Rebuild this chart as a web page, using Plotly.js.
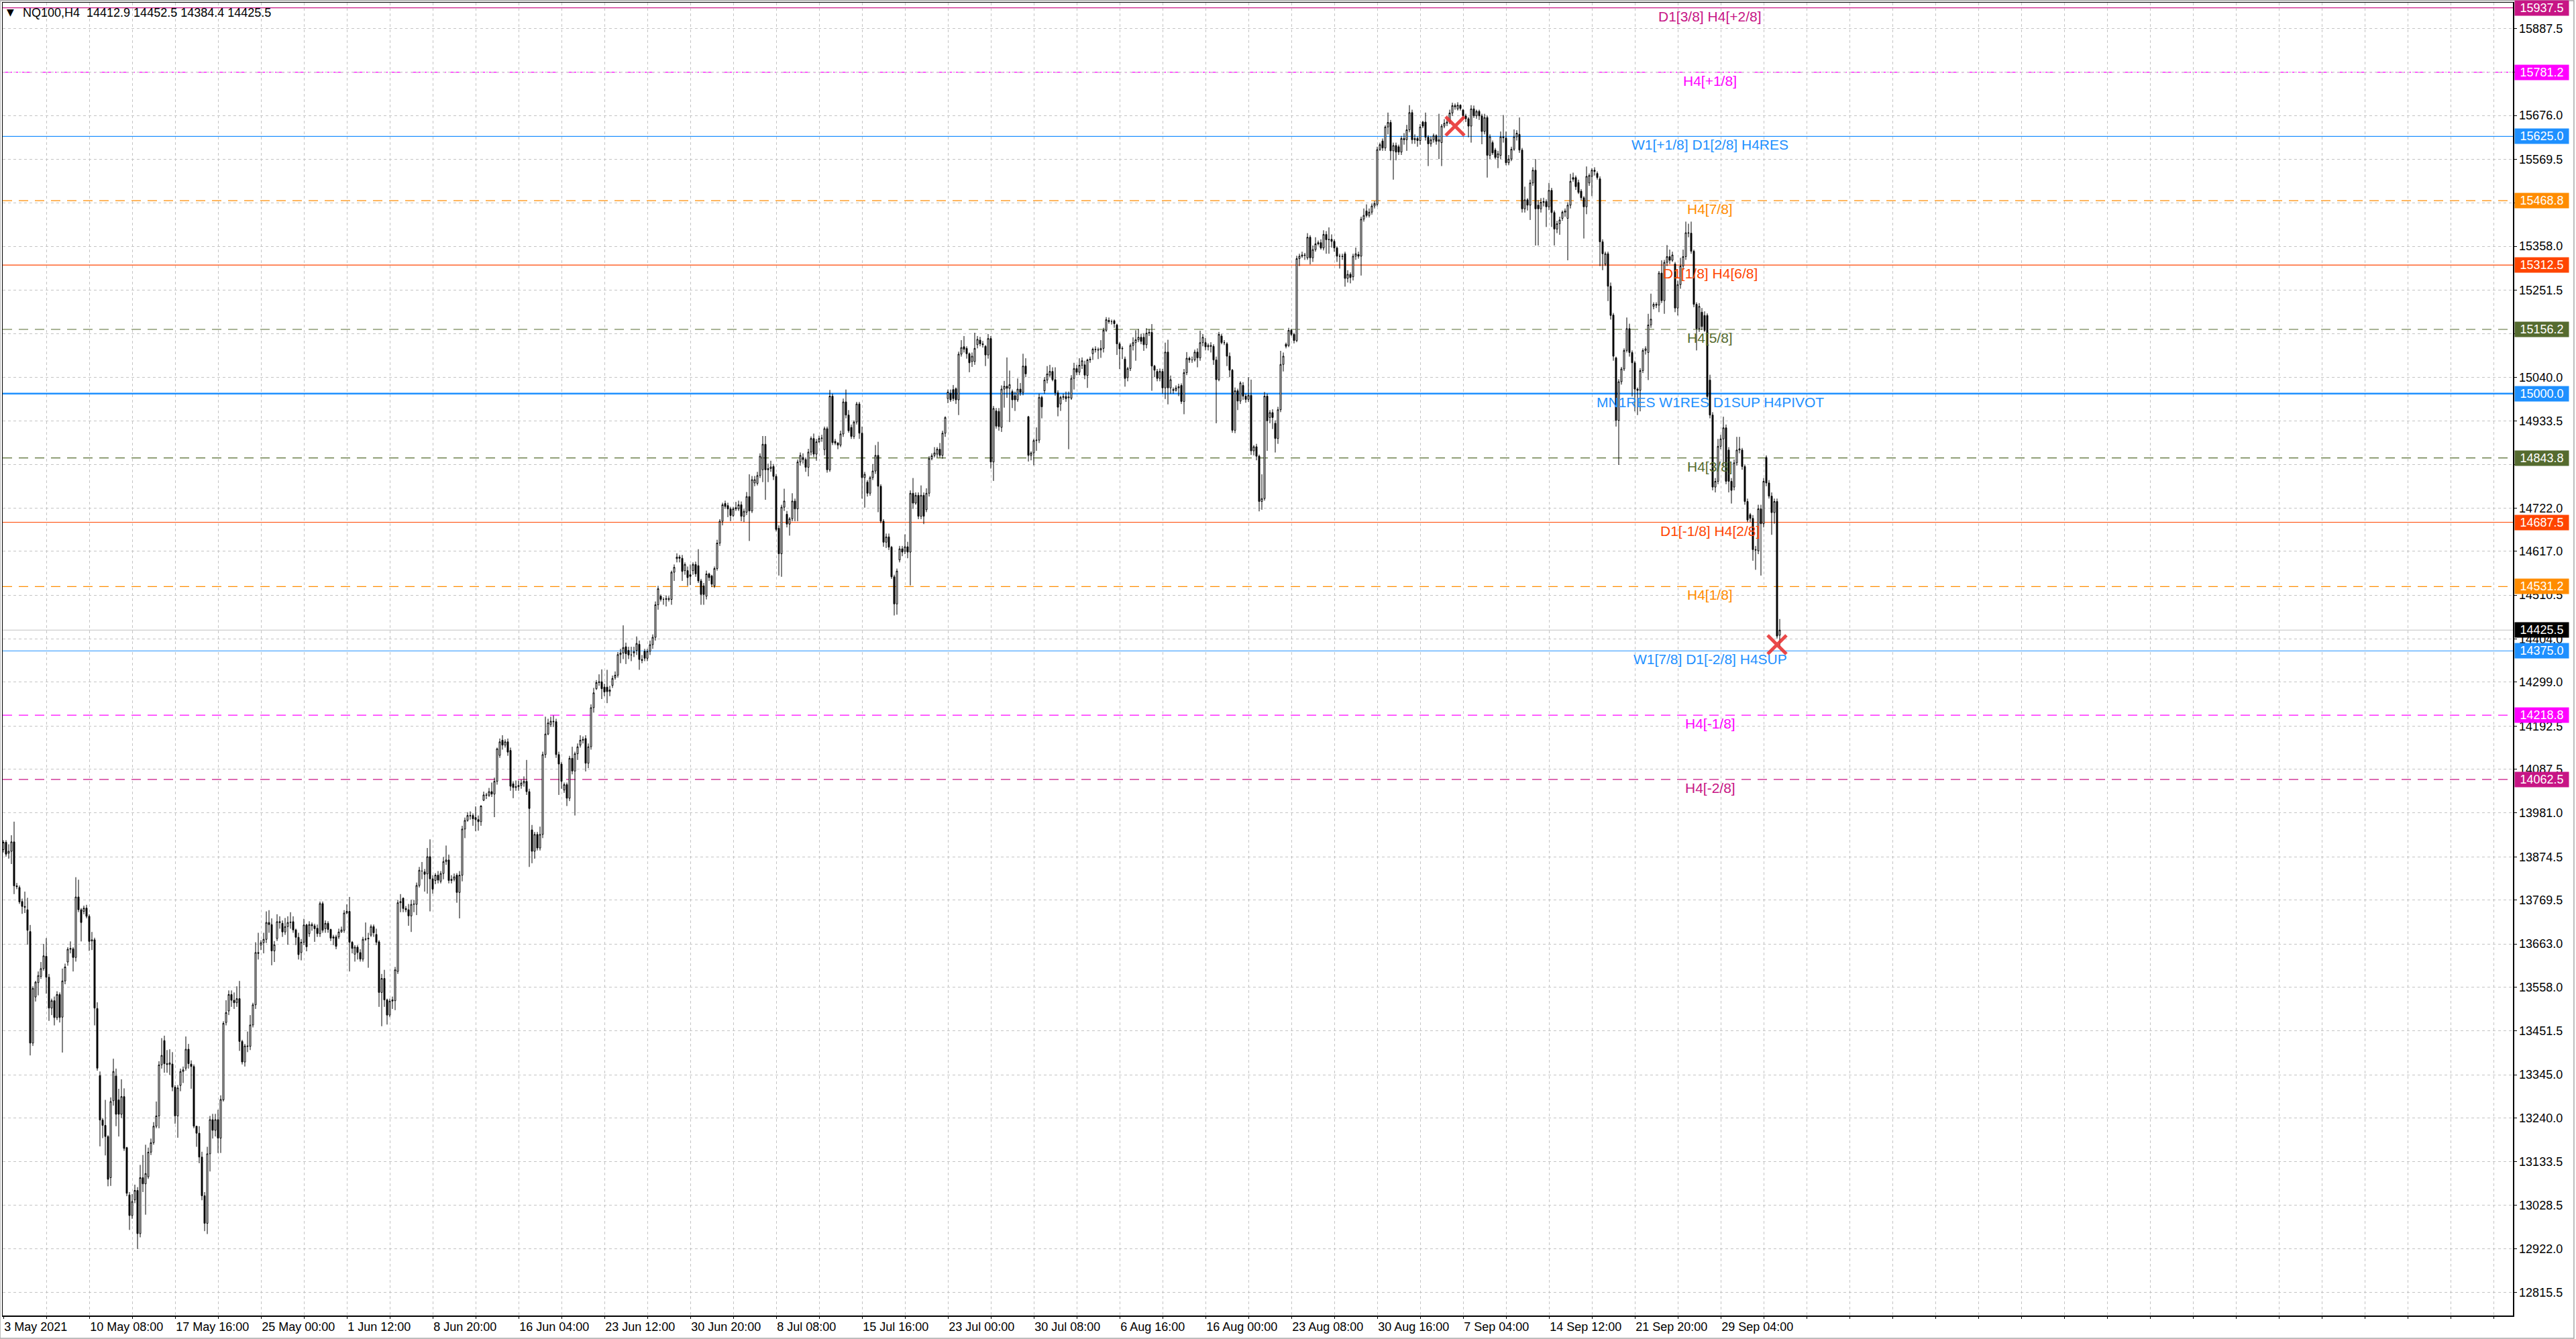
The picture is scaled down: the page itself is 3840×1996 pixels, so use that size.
<!DOCTYPE html>
<html>
<head>
<meta charset="utf-8">
<script src="https://cdn.plot.ly/plotly-3.0.1.min.js"></script>
<style>html,body{margin:0;padding:0;background:#fff;}#chart{width:3840px;height:1996px;}</style>
</head>
<body>
<div id="chart"></div>
<script>
// ---- H4 OHLC bars (NQ100) ----
const openP = [
13892,13910,13883,13888,13911,13804,13800,13766,13754,13746,
13693,13422,13534,13569,13584,13603,13633,13582,13507,13525,
13484,13540,13485,13573,13619,13650,13651,13630,13777,13746,
13742,13750,13730,13670,13673,13506,13343,13235,13222,13195,
13095,13282,13342,13284,13249,13292,13168,13053,13003,13041,
13064,12959,13095,13080,13097,13157,13180,13220,13245,13369,
13428,13372,13370,13371,13315,13245,13319,13353,13361,13407,
13371,13365,13220,13203,13145,13051,12984,13153,13236,13210,
13236,13191,13284,13472,13500,13540,13526,13520,13530,13426,
13376,13415,13414,13466,13515,13642,13660,13666,13674,13715,
13710,13646,13676,13717,13713,13692,13705,13715,13717,13697,
13679,13642,13667,13709,13688,13710,13707,13701,13688,13761,
13700,13713,13698,13677,13680,13680,13692,13696,13738,13742,
13667,13638,13655,13642,
13626,13674,13675,13684,13705,13686,13668,13545,13579,13527,
13490,13524,13525,13596,13763,13774,13749,13746,13731,13759,
13759,13805,13840,13838,13833,13875,13821,13817,13830,13815,
13834,13863,13867,13817,13820,13830,13788,13830,13942,13963,
13975,13975,13970,13965,13960,14012,14025,14024,14033,14027,
14058,14121,14158,14146,14154,14133,14052,14043,14045,14048,
14054,14058,14033,13940,13888,13929,13896,13929,14123,14173,
14196,14204,14203,14123,14100,14037,14050,14017,14114,14083,
14125,14146,14158,14162,14102,14142,14237,14283,14298,14300,
14287,14287,14276,14291,14310,14316,14366,14370,14385,14376,
14365,14370,14376,14391,14354,14374,14357,14374,14390,14408,
14487,14508,14500,14500,14502,14500,14566,14599,14603,14600,
14570,14570,14560,14570,14585,14582,14545,14533,14508,14562,
14557,14533,14575,14637,14690,
14733,14728,14720,14704,14720,14720,14730,14702,14712,14750,
14715,14783,14782,14801,14815,14877,14815,14818,14823,14799,
14673,14611,14724,14707,14683,14696,14739,14720,14834,14845,
14840,14821,14858,14891,14853,14883,14891,14864,14915,14815,
14994,14884,14880,14875,14902,14980,14948,14918,14896,14931,
14975,14904,14796,14785,14758,14796,14812,14850,14775,14690,
14639,14652,14627,14555,14489,14596,14623,14617,14628,14615,
14758,14734,14753,14702,14753,14718,14758,14842,14850,14853,
14865,14850,14904,14988,15001,15010,15012,14985,15096,15114,
15110,15097,15078,15078,15119,15130,15121,15115,15094,15134,
14834,14958,14957,14918,15011,15018,15013,15005,14995,14985,
15011,15003,15067,14944,14850,14856,14886,14887,14991,15007,
15033,15045,15054,15034,15002,14975,14991,14993,14990,14989,
15037,15061,15052,15069,15070,
15044,15082,15097,15108,15107,15106,15110,15154,15178,15175,
15177,15167,15121,15109,15084,15039,15061,15117,15124,15131,
15137,15137,15119,15147,15149,15067,15054,15037,15054,15014,
15101,15014,15010,15008,15014,15020,14981,15051,15086,15082,
15082,15101,15087,15124,15124,15114,15117,15115,15082,15034,
15140,15124,15121,15091,15057,14911,15007,14982,15020,14994,
14986,14996,14861,14871,14848,14738,14745,14994,14942,14954,
14928,14891,14961,15071,15120,15117,15154,15144,15129,15328,
15334,15337,15330,15380,15330,15350,15364,15367,15354,15387,
15374,15375,15370,15354,15334,15334,15340,15280,15290,15284,
15334,15338,15334,15424,15444,15433,15441,15456,15460,15593,
15614,15597,15648,15659,15590,15603,15600,15587,15620,15617,
15641,15683,15617,15620,15615,15660,15660,15623,15607,15617,
15627,15613,15610,15650,15657,15660,
15682,15700,15692,15701,15689,15675,15668,15650,15692,15675,
15686,15675,15637,15671,15579,15610,15592,15574,15579,15624,
15621,15561,15570,15594,15624,15630,15592,15449,15471,15458,
15512,15543,15458,15449,15465,15467,15454,15494,15440,15400,
15413,15426,15441,15426,15458,15525,15525,15513,15492,15476,
15454,15512,15528,15543,15535,15522,15369,15315,15340,15261,
15191,15087,14935,15029,15060,15105,15158,15100,15075,15011,
15008,15056,15105,15100,15167,15212,15217,15215,15293,15226,
15319,15333,15324,15315,15208,15265,15310,15333,15391,15390,
15346,15217,15158,15198,15190,15190,15033,14948,14773,14787,
14872,14890,14917,14863,14787,14773,14832,14863,14863,14823,
14738,14706,14697,14621,14618,14720,14684,14845,14783,14751,
14711,14738,14412.9
];
const highP = [
13915,13915,13905,13927,13960,13811,13805,13773,13790,13775,
13709,13560,13573,13596,13619,13663,13677,13590,13530,13535,
13548,13545,13603,13615,13655,13669,13655,13825,13819,13750,
13756,13758,13735,13692,13678,13521,13353,13240,13284,13198,
13290,13384,13360,13311,13334,13312,13170,13060,13055,13078,
13072,13126,13150,13175,13168,13190,13230,13280,13378,13434,
13440,13405,13407,13400,13320,13320,13360,13365,13438,13420,
13380,13370,13220,13220,13158,13060,13170,13245,13250,13250,
13260,13295,13475,13526,13550,13550,13545,13560,13573,13430,
13420,13450,13490,13520,13667,13690,13672,13690,13742,13745,
13725,13670,13735,13730,13720,13726,13730,13740,13730,13700,
13690,13675,13724,13712,13718,13715,13712,13710,13766,13766,
13720,13718,13700,13685,13685,13700,13705,13745,13759,13777,
13670,13660,13660,13650,
13680,13715,13690,13710,13710,13700,13672,13590,13600,13530,
13530,13535,13607,13770,13784,13776,13755,13760,13770,13770,
13812,13850,13862,13845,13896,13917,13830,13835,13840,13840,
13874,13902,13880,13830,13834,13835,13840,13950,13970,13983,
13985,13980,13997,13975,14000,14033,14030,14042,14055,14067,
14140,14162,14170,14160,14162,14140,14058,14060,14060,14062,
14070,14110,14040,13952,13935,13935,13948,14130,14215,14210,
14215,14218,14210,14130,14105,14055,14055,14120,14142,14130,
14150,14170,14167,14170,14150,14245,14285,14304,14318,14330,
14295,14329,14290,14315,14325,14372,14380,14437,14395,14385,
14385,14385,14410,14400,14365,14380,14380,14400,14415,14495,
14533,14512,14505,14510,14508,14570,14585,14612,14608,14608,
14590,14580,14585,14590,14592,14622,14550,14540,14570,14565,
14560,14580,14645,14695,14735,
14740,14735,14725,14725,14737,14740,14738,14720,14761,14804,
14800,14800,14810,14855,14897,14897,14830,14837,14829,14805,
14680,14730,14769,14715,14700,14758,14745,14840,14857,14855,
14845,14866,14896,14903,14890,14898,14900,14920,14920,15009,
15000,14890,14882,14910,14988,15010,14960,14925,14935,14980,
14980,14920,14810,14790,14800,14829,14875,14883,14780,14695,
14660,14660,14630,14560,14575,14630,14630,14658,14640,14765,
14795,14760,14760,14777,14760,14770,14848,14855,14870,14870,
14880,14910,14945,15010,15010,15021,15015,15102,15130,15140,
15115,15100,15100,15148,15140,15138,15128,15118,15145,15140,
14970,14965,14965,15020,15031,15088,15056,15010,15005,15037,
15026,15097,15086,14946,14860,14890,14918,15000,14995,15040,
15067,15070,15064,15064,15008,14995,15000,15005,15005,15045,
15075,15070,15086,15088,15080,
15085,15090,15112,15115,15112,15130,15160,15186,15185,15180,
15180,15170,15125,15115,15090,15065,15122,15137,15154,15157,
15145,15147,15159,15157,15169,15070,15060,15061,15060,15124,
15131,15044,15015,15020,15024,15025,15060,15101,15090,15090,
15107,15110,15153,15145,15135,15122,15125,15120,15090,15150,
15145,15130,15125,15100,15060,15015,15012,15030,15028,15000,
15040,15034,14875,14878,14852,14804,15004,15000,14960,14962,
14935,14968,15104,15100,15124,15160,15157,15148,15335,15340,
15345,15342,15390,15385,15360,15380,15372,15375,15397,15395,
15404,15387,15375,15358,15340,15340,15345,15300,15295,15340,
15355,15345,15430,15450,15460,15450,15462,15468,15600,15610,
15620,15652,15683,15665,15610,15610,15605,15626,15633,15653,
15701,15690,15630,15625,15655,15663,15683,15628,15625,15632,
15630,15680,15655,15667,15668,15690,
15707,15705,15708,15703,15692,15680,15672,15701,15700,15690,
15690,15680,15680,15676,15630,15615,15597,15590,15637,15677,
15637,15580,15600,15642,15640,15671,15597,15503,15475,15520,
15550,15570,15470,15475,15476,15472,15512,15500,15445,15420,
15430,15445,15450,15465,15534,15537,15530,15520,15497,15480,
15552,15535,15548,15550,15540,15528,15375,15345,15345,15270,
15196,15090,15035,15065,15110,15185,15170,15105,15080,15015,
15062,15110,15115,15194,15243,15222,15222,15298,15324,15325,
15361,15350,15345,15320,15275,15330,15350,15418,15413,15418,
15350,15222,15220,15208,15200,15195,15046,14955,14795,14890,
14900,14944,14925,14870,14795,14840,14895,14895,14868,14828,
14745,14710,14705,14630,14730,14730,14795,14850,14790,14760,
14745,14745,14452.5
];
const lowP = [
13885,13875,13870,13857,13784,13796,13760,13736,13738,13661,
13392,13415,13523,13538,13578,13598,13542,13476,13490,13465,
13478,13472,13399,13565,13610,13640,13596,13620,13740,13669,
13735,13725,13646,13648,13465,13355,13171,13191,13149,13074,
13075,13270,13220,13195,13240,13160,13050,12968,12995,13033,
12922,12950,13060,13005,13092,13150,13175,13215,13215,13360,
13350,13350,13345,13305,13226,13192,13305,13325,13355,13360,
13311,13215,13170,13130,13040,12965,12958,13110,13190,13195,
13155,13155,13280,13465,13490,13510,13505,13510,13403,13370,
13365,13400,13405,13460,13505,13625,13648,13640,13665,13690,
13611,13619,13670,13700,13680,13685,13661,13700,13690,13660,
13625,13623,13660,13645,13680,13695,13668,13680,13680,13690,
13690,13690,13670,13660,13650,13675,13690,13690,13735,13596,
13640,13620,13625,13620,
13620,13670,13605,13680,13680,13660,13510,13463,13510,13467,
13485,13505,13502,13590,13740,13740,13740,13707,13692,13740,
13733,13800,13820,13790,13785,13742,13785,13808,13810,13810,
13820,13855,13810,13810,13815,13763,13725,13815,13920,13960,
13965,13950,13937,13938,13950,14010,14015,14020,14020,13971,
14050,14115,14135,14140,14120,14035,14017,14035,14035,14040,
14045,14025,13850,13859,13870,13890,13890,13920,14115,14170,
14190,14190,14115,14025,14040,14030,13998,14010,14075,13975,
14110,14140,14150,14082,14090,14135,14225,14280,14290,14258,
14265,14248,14265,14285,14305,14310,14345,14355,14343,14355,
14350,14360,14365,14329,14345,14350,14350,14365,14380,14400,
14475,14495,14487,14483,14495,14487,14545,14590,14590,14545,
14560,14533,14535,14560,14555,14540,14487,14487,14500,14545,
14530,14528,14570,14630,14680,
14720,14700,14690,14700,14715,14715,14690,14688,14705,14642,
14710,14775,14777,14795,14785,14742,14785,14810,14790,14665,
14558,14555,14715,14675,14655,14690,14690,14690,14825,14830,
14810,14799,14850,14846,14837,14880,14883,14850,14808,14810,
14875,14875,14865,14870,14895,14940,14905,14890,14890,14925,
14890,14745,14723,14750,14752,14790,14805,14712,14685,14628,
14625,14620,14550,14461,14463,14590,14605,14610,14600,14534,
14720,14730,14695,14695,14683,14712,14750,14838,14845,14845,
14845,14842,14895,14977,14980,14982,14975,14948,15090,15100,
15085,15052,15065,15070,15110,15115,15112,15067,15085,14818,
14788,14915,14910,14907,14966,14990,14931,14965,14958,14980,
14995,14996,15040,14835,14838,14826,14861,14880,14940,15000,
15025,15040,15030,14995,14945,14958,14985,14980,14865,14985,
15010,15045,15045,15060,15035,
15014,15075,15082,15100,15084,15087,15100,15150,15170,15168,
15160,15094,15060,15084,15017,15030,15055,15105,15080,15125,
15120,15104,15110,15140,15007,15040,15030,15030,15000,14987,
14974,15000,15000,15005,14994,14975,14950,15045,15075,15075,
15078,15064,15080,15115,15105,15105,15100,15070,14928,15030,
15120,15118,15067,15040,14905,14904,14960,14975,14985,14978,
14980,14851,14850,14838,14714,14718,14740,14861,14928,14914,
14857,14878,14955,15054,15110,15113,15140,15122,15125,15310,
15330,15325,15325,15314,15320,15345,15360,15350,15348,15340,
15340,15355,15345,15320,15304,15325,15260,15270,15268,15275,
15325,15328,15287,15418,15428,15428,15435,15450,15455,15590,
15590,15590,15630,15567,15520,15567,15580,15580,15605,15590,
15635,15607,15607,15600,15605,15645,15615,15553,15600,15610,
15605,15570,15553,15645,15650,15655,
15675,15690,15688,15688,15668,15660,15623,15610,15670,15668,
15665,15606,15630,15525,15570,15580,15570,15548,15570,15610,
15555,15555,15565,15590,15615,15585,15440,15440,15445,15422,
15505,15360,15360,15440,15455,15405,15446,15405,15360,15390,
15386,15420,15430,15324,15450,15515,15495,15485,15470,15377,
15436,15505,15480,15530,15520,15310,15300,15310,15225,15180,
15080,14920,14827,15022,15055,15100,15090,14993,14957,14948,
14957,15050,15095,15033,15160,15205,15208,15198,15220,15194,
15310,15315,15320,15198,15190,15255,15300,15325,15380,15340,
15210,15105,15150,15155,15150,14985,14940,14765,14760,14780,
14865,14823,14780,14760,14733,14765,14825,14855,14815,14730,
14688,14688,14594,14572,14610,14558,14675,14775,14745,14657,
14684,14405,14384.4
];
const closeP = [
13910,13881,13888,13911,13804,13802,13765,13754,13752,13696,
13422,13555,13570,13586,13603,13634,13582,13507,13525,13484,
13540,13484,13573,13607,13650,13652,13630,13777,13746,13715,
13750,13730,13669,13673,13507,13361,13235,13222,13195,13091,
13280,13353,13249,13249,13292,13166,13057,13003,13037,13064,
12959,13095,13080,13105,13157,13180,13220,13245,13369,13392,
13372,13370,13374,13315,13245,13313,13353,13357,13407,13372,
13365,13220,13203,13145,13051,12984,13153,13236,13210,13236,
13191,13285,13470,13496,13540,13526,13520,13530,13426,13376,
13415,13414,13466,13515,13642,13640,13666,13674,13715,13710,
13646,13661,13717,13715,13692,13705,13715,13716,13697,13679,
13637,13667,13709,13656,13710,13707,13700,13688,13761,13696,
13713,13698,13677,13680,13657,13692,13697,13738,13742,13667,
13652,13655,13642,13626,
13674,13675,13677,13705,13690,13667,13545,13579,13527,13490,
13524,13527,13600,13763,13766,13749,13746,13731,13759,13760,
13805,13842,13840,13832,13875,13821,13796,13830,13818,13834,
13863,13867,13817,13820,13826,13788,13830,13942,13963,13975,
13974,13967,13965,13960,13998,14025,14024,14033,14027,14058,
14137,14154,14146,14154,14129,14046,14043,14045,14048,14054,
14058,14033,13992,13888,13929,13896,13929,14123,14173,14200,
14204,14203,14123,14100,14058,14050,14017,14114,14083,14125,
14142,14158,14160,14102,14142,14237,14273,14298,14300,14283,
14275,14276,14280,14308,14316,14366,14370,14383,14368,14365,
14365,14373,14393,14354,14352,14357,14374,14390,14408,14487,
14526,14500,14500,14502,14500,14566,14578,14603,14600,14568,
14585,14553,14556,14585,14562,14545,14512,14512,14562,14553,
14537,14575,14637,14690,14730,
14726,14720,14704,14720,14723,14730,14702,14714,14750,14715,
14791,14791,14801,14848,14877,14815,14818,14822,14799,14670,
14611,14724,14739,14683,14696,14739,14720,14834,14850,14840,
14821,14858,14891,14853,14883,14891,14892,14915,14815,14994,
14881,14880,14875,14902,14980,14948,14910,14896,14931,14975,
14904,14796,14804,14758,14796,14812,14850,14775,14690,14639,
14652,14627,14555,14489,14569,14623,14615,14628,14615,14758,
14734,14753,14702,14753,14702,14758,14842,14849,14856,14865,
14850,14904,14942,15004,14985,14988,14985,15096,15112,15108,
15097,15075,15091,15110,15132,15121,15119,15094,15134,14834,
14964,14921,14920,15011,15018,15013,15022,14985,14985,15011,
15003,15067,15048,14850,14856,14886,14887,14991,14968,15033,
15048,15054,15034,15002,14967,14991,14993,14988,14992,15037,
15061,15052,15069,15080,15045,
15082,15084,15108,15107,15106,15110,15154,15180,15175,15175,
15170,15121,15109,15110,15037,15061,15117,15124,15131,15137,
15127,15119,15147,15149,15067,15057,15037,15054,15014,15101,
15014,15034,15008,15014,15017,14981,15051,15086,15082,15082,
15101,15087,15124,15137,15114,15117,15115,15082,15034,15144,
15124,15124,15091,15057,14911,15007,14982,15026,14994,14986,
14996,14861,14871,14848,14738,14745,14994,14934,14954,14942,
14891,14961,15071,15091,15115,15154,15144,15129,15328,15334,
15337,15336,15380,15330,15350,15364,15367,15354,15387,15374,
15375,15370,15354,15334,15334,15333,15280,15290,15282,15334,
15340,15334,15424,15433,15433,15441,15456,15462,15593,15605,
15597,15648,15659,15590,15603,15587,15587,15620,15617,15641,
15683,15617,15620,15615,15648,15650,15623,15607,15617,15627,
15613,15617,15650,15657,15660,15682,
15700,15697,15701,15693,15675,15668,15650,15692,15675,15686,
15675,15637,15671,15579,15624,15585,15574,15583,15624,15622,
15561,15570,15594,15624,15633,15592,15449,15471,15458,15512,
15543,15449,15449,15465,15467,15454,15494,15440,15400,15413,
15422,15441,15444,15458,15516,15521,15503,15489,15476,15454,
15528,15530,15543,15540,15525,15369,15340,15340,15261,15190,
15091,14935,15029,15060,15105,15158,15100,15075,15011,15008,
15056,15105,15109,15167,15181,15217,15215,15293,15226,15319,
15333,15324,15337,15208,15265,15310,15333,15391,15390,15346,
15217,15158,15212,15163,15154,14993,14948,14773,14787,14872,
14890,14917,14787,14787,14765,14832,14863,14866,14823,14738,
14693,14697,14621,14620,14720,14684,14787,14783,14751,14711,
14738,14411,14425.5
];

// ---- time-axis labels (every 32 bars) ----
const timeLabels = ["3 May 2021","10 May 08:00","17 May 16:00","25 May 00:00","1 Jun 12:00",
  "8 Jun 20:00","16 Jun 04:00","23 Jun 12:00","30 Jun 20:00","8 Jul 08:00","15 Jul 16:00",
  "23 Jul 00:00","30 Jul 08:00","6 Aug 16:00","16 Aug 00:00","23 Aug 08:00","30 Aug 16:00",
  "7 Sep 04:00","14 Sep 12:00","21 Sep 20:00","29 Sep 04:00"];

// ---- price-axis ticks ----
const priceTicks = [15887.5,15781.5,15676.0,15569.5,15463.5,15358.0,15251.5,15146.0,15040.0,14933.5,
  14828.0,14722.0,14617.0,14510.5,14404.0,14299.0,14192.5,14087.5,13981.0,13874.5,13769.5,13663.0,
  13558.0,13451.5,13345.0,13240.0,13133.5,13028.5,12922.0,12815.5];
const hiddenTicks = [15781.5,15463.5,15146.0,14828.0];

// ---- Murrey-style levels ----
const levelPrices = [15937.5,15781.2,15625.0,15468.8,15312.5,15156.2,15000.0,14843.8,14687.5,14531.2,14375.0,14218.8,14062.5];
const levelNames  = ["D1[3/8] H4[+2/8]","H4[+1/8]","W1[+1/8] D1[2/8] H4RES","H4[7/8]","D1[1/8] H4[6/8]","H4[5/8]",
  "MN1RES W1RES D1SUP H4PIVOT","H4[3/8]","D1[-1/8] H4[2/8]","H4[1/8]","W1[7/8] D1[-2/8] H4SUP","H4[-1/8]","H4[-2/8]"];
const levelColors = ["#C71585","#FF00FF","#1E90FF","#FF8C00","#FF4500","#556B2F","#1E90FF","#556B2F","#FF4500","#FF8C00","#1E90FF","#FF00FF","#C71585"];
const levelDash   = ["solid","dashdot","solid","dash","solid","dash","solid","dash","solid","dash","solid","dash","dash"];
const levelWidth  = [1.2,1.2,1.2,1.2,1.2,1.2,2.4,1.2,1.2,1.2,1.2,1.2,1.2];

// ---- current price & markers ----
const symbolName = "NQ100,H4";
const lastPrice = 14425.5;
const markX = [541, 661];
const markY = [15650, 14390];

const N = closeP.length;
const xs = closeP.map((_, i) => i);
const FONT = "Liberation Sans, Arial, sans-serif";

const gridVals = [], gridText = [];
for (let k = 0; k * 16 <= 928; k++) {
  gridVals.push(k * 16);
  gridText.push(k % 2 === 0 && timeLabels[k / 2] ? timeLabels[k / 2] : "");
}

const dashMap = {solid: "solid", dash: "14px,10px", dashdot: "14px,6px,3px,6px"};
const shapes = [];
const annotations = [];
levelPrices.forEach((p, i) => {
  shapes.push({type: "line", xref: "paper", x0: 0, x1: 1, yref: "y", y0: p, y1: p, layer: "below",
    line: {color: levelColors[i], width: levelWidth[i], dash: dashMap[levelDash[i]]}});
  annotations.push({xref: "x", x: 636, yref: "y", y: p, yanchor: "top", xanchor: "center", yshift: 1,
    text: levelNames[i], showarrow: false, font: {family: FONT, size: 21, color: levelColors[i]}});
});
shapes.push({type: "line", xref: "paper", x0: 0, x1: 1, yref: "y", y0: lastPrice, y1: lastPrice, layer: "below",
  line: {color: "#C0C0C0", width: 1.2}});

// right-side price boxes
const boxes = levelPrices.map((p, i) => ({p, c: levelColors[i]}));
boxes.push({p: lastPrice, c: "#000000"});
boxes.forEach(b => {
  annotations.push({xref: "paper", x: 1, xanchor: "left", xshift: 2, yref: "y", y: b.p, yanchor: "middle",
    text: b.p.toFixed(1), showarrow: false, bgcolor: b.c, width: 76, height: 18, borderpad: 2, align: "center",
    font: {family: FONT, size: 18, color: "#ffffff"}});
});

// header
annotations.push({xref: "paper", x: 0, xanchor: "left", xshift: 28, yref: "paper", y: 1, yanchor: "middle", yshift: -15,
  text: symbolName + "\u00a0\u00a0" + [openP[N-1], highP[N-1], lowP[N-1], closeP[N-1]].map(v => v.toFixed(1)).join(" "),
  showarrow: false, font: {family: FONT, size: 18, color: "#000"}});
annotations.push({xref: "paper", x: 0, xanchor: "center", xshift: 11, yref: "paper", y: 1, yanchor: "middle", yshift: -14,
  text: "\u25BC", showarrow: false, font: {family: "DejaVu Sans", size: 14, color: "#000"}});

if (openP.length !== N || highP.length !== N || lowP.length !== N) {
  annotations.push({xref: "paper", yref: "paper", x: 0.5, y: 0.5, showarrow: false,
    text: "LEN MISMATCH " + [openP.length, highP.length, lowP.length, N].join(","), font: {size: 60, color: "red"}});
}

// outer window frame
shapes.push({type: "rect", xref: "paper", yref: "paper", x0: -0.00107, x1: 1.0243, y0: -0.0174, y1: 1.0015,
  layer: "below", line: {color: "#a8a8a8", width: 1.5}, fillcolor: "rgba(0,0,0,0)"});

const traces = [
  {type: "candlestick", x: xs, open: openP, high: highP, low: lowP, close: closeP,
   increasing: {line: {color: "#000000", width: 1}, fillcolor: "#ffffff"},
   decreasing: {line: {color: "#000000", width: 1}, fillcolor: "#000000"},
   whiskerwidth: 0, hoverinfo: "none", showlegend: false},
  {type: "scatter", mode: "markers", x: markX, y: markY, hoverinfo: "skip", showlegend: false,
   marker: {symbol: "x-thin", size: 28, color: "rgba(232,52,52,0.9)", line: {width: 5, color: "rgba(232,52,52,0.9)"}}}
];

const layout = {
  width: 3840, height: 1996,
  margin: {l: 4, r: 94, t: 4, b: 35},
  paper_bgcolor: "#ffffff", plot_bgcolor: "#ffffff",
  showlegend: false,
  font: {family: FONT, size: 18, color: "#000"},
  xaxis: {
    range: [-0.25, 935.25], fixedrange: true,
    tickmode: "array", tickvals: gridVals, ticktext: gridText,
    ticklabelposition: "outside right",
    ticks: "outside", ticklen: 3, tickcolor: "#000",
    showgrid: true, gridcolor: "#c4c4c4", gridwidth: 1, griddash: "4px,4px",
    showline: true, linecolor: "#000", linewidth: 1.5, mirror: true,
    zeroline: false, rangeslider: {visible: false},
    tickfont: {family: FONT, size: 18, color: "#000"}
  },
  yaxis: {
    side: "right", range: [12760, 15950], fixedrange: true,
    tickmode: "array", tickvals: priceTicks,
    ticktext: priceTicks.map(v => hiddenTicks.includes(v) ? "" : v.toFixed(1)),
    ticks: "outside", ticklen: 4, tickcolor: "#000",
    showgrid: true, gridcolor: "#c4c4c4", gridwidth: 1, griddash: "4px,4px",
    showline: true, linecolor: "#000", linewidth: 1.5, mirror: true,
    zeroline: false,
    tickfont: {family: FONT, size: 18, color: "#000"}
  },
  shapes: shapes,
  annotations: annotations
};

Plotly.newPlot("chart", traces, layout, {displayModeBar: false, staticPlot: true});
</script>
</body>
</html>
